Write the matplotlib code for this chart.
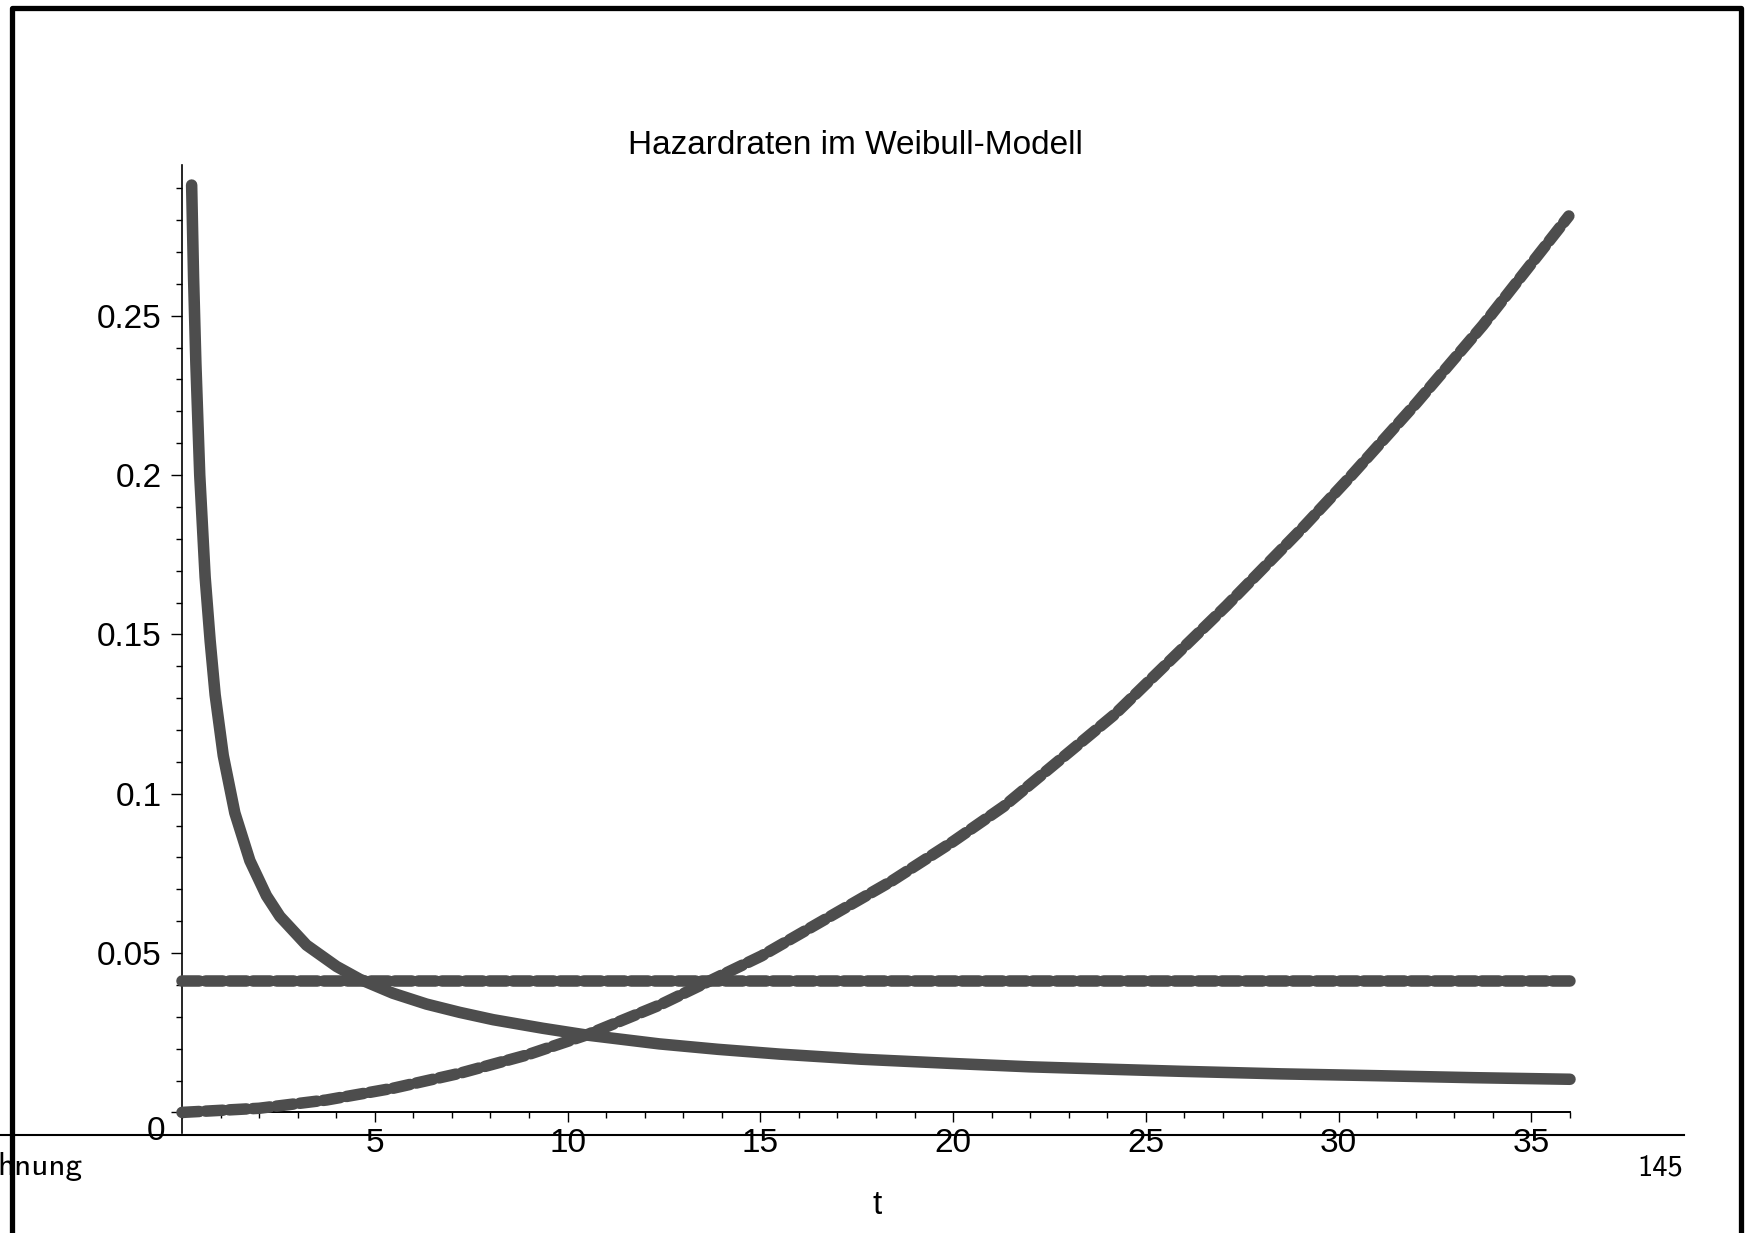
import matplotlib.pyplot as plt
from matplotlib.lines import Line2D
from matplotlib.ticker import MultipleLocator, FixedLocator, NullFormatter

# Hazard rates of three Weibull models
t_falling = [0.25, 0.30, 0.36, 0.46, 0.60, 0.73, 0.86, 1.07, 1.37, 1.76, 2.19, 2.54,
             3.23, 4.01, 4.61, 5.47, 6.34, 7.20, 8.07, 9.36, 10.48, 12.38, 13.9,
             15.5, 17.6, 19.9, 22.0, 24.2, 25.9, 28.5, 31.1, 33.5, 36.0]
h_falling = [0.291, 0.262, 0.235, 0.200, 0.168, 0.148, 0.131, 0.112, 0.094, 0.079,
             0.068, 0.0615, 0.0525, 0.0458, 0.0418, 0.0374, 0.0340, 0.0314, 0.0291,
             0.0264, 0.0243, 0.0215, 0.0198, 0.0183, 0.0167, 0.0154, 0.0143, 0.0135,
             0.0129, 0.0121, 0.0115, 0.0109, 0.0104]

t_rising = [0.0, 2.0, 3.75, 5.48, 7.21, 8.94, 10.49, 12.39, 15.03, 18.42, 20.0,
            21.31, 24.2, 27.09, 29.07, 30.28, 32.01, 33.74, 35.97]
h_rising = [0.0, 0.0013, 0.0039, 0.0076, 0.0123, 0.018, 0.0243, 0.0337, 0.0491,
            0.0727, 0.0850, 0.0960, 0.1250, 0.1590, 0.1835, 0.1992, 0.2225, 0.2470,
            0.2813]

t_const = [0.0, 36.0]
h_const = [0.0412, 0.0412]

y_ticks = [0, 0.05, 0.1, 0.15, 0.2, 0.25]
y_labels = ["", "0.05", "0.1", "0.15", "0.2", "0.25"]
x_ticks = [5, 10, 15, 20, 25, 30, 35]

W, H = 1749, 1233
fx = lambda px: px / W
fy = lambda py: 1 - py / H

fig = plt.figure(figsize=(W / 100, H / 100), dpi=100)
ax = fig.add_axes([fx(182), fy(1133), fx(1570) - fx(182), fy(165) - fy(1133)])

curve = "#4d4d4d"
lw = 8.3
beads = (0, (1.5, 0.55))
ax.plot(t_falling, h_falling, color=curve, lw=lw, solid_capstyle="round",
        solid_joinstyle="round", clip_on=False, zorder=3)
ax.plot(t_rising, h_rising, color=curve, lw=lw, linestyle=beads,
        dash_capstyle="round", dash_joinstyle="round", clip_on=False, zorder=3)
ax.plot(t_const, h_const, color=curve, lw=lw, linestyle=beads,
        dash_capstyle="round", clip_on=False, zorder=3)

ax.set_xlim(0, 36)
ax.set_ylim(-0.00646, 0.2973)

for side in ("top", "right"):
    ax.spines[side].set_visible(False)
ax.spines["bottom"].set_position(("data", 0))
ax.spines["bottom"].set_linewidth(1.4)
ax.spines["left"].set_linewidth(1.2)

tick_font = dict(family="Liberation Sans", size=24)
ax.xaxis.set_major_locator(FixedLocator(x_ticks))
ax.xaxis.set_minor_locator(MultipleLocator(1))
ax.set_xticklabels([str(v) for v in x_ticks], **tick_font)
ax.yaxis.set_major_locator(FixedLocator(y_ticks))
ax.yaxis.set_minor_locator(FixedLocator([i / 100 for i in range(1, 30)]))
ax.yaxis.set_minor_formatter(NullFormatter())
ax.set_yticklabels(y_labels, **tick_font)
ax.tick_params(axis="x", which="major", direction="out", length=7, width=1, pad=4)
ax.tick_params(axis="x", which="minor", direction="out", length=4, width=1)
ax.tick_params(axis="y", which="major", direction="out", length=8, width=1, pad=6.7)
ax.tick_params(axis="y", which="minor", direction="out", length=4, width=1)
ax.patch.set_visible(False)

# zero label sits below the axis line
fig.text(fx(165), fy(1131), "0", ha="right", va="center", **tick_font)

fig.text(fx(855), fy(146), "Hazardraten im Weibull-Modell", ha="center", va="center",
         **tick_font)
fig.text(fx(877), fy(1206), "t", ha="center", va="center", **tick_font)

# slide footer and border
fig.add_artist(Line2D([0, fx(1684)], [fy(1135), fy(1135)], transform=fig.transFigure,
                      color="black", lw=1.5))
fig.text(fx(-3), fy(1175), "hnung", ha="left", va="baseline", family="cmss10", size=24)
fig.text(fx(1683), fy(1175), "145", ha="right", va="baseline", family="cmss10", size=22)
fig.add_artist(Line2D([fx(12), fx(12), fx(1741.5), fx(1741.5)],
                      [0, fy(7.5), fy(7.5), 0], transform=fig.transFigure,
                      color="black", lw=3.8, solid_joinstyle="round"))

fig.savefig("out.png", dpi=100, facecolor="white")
